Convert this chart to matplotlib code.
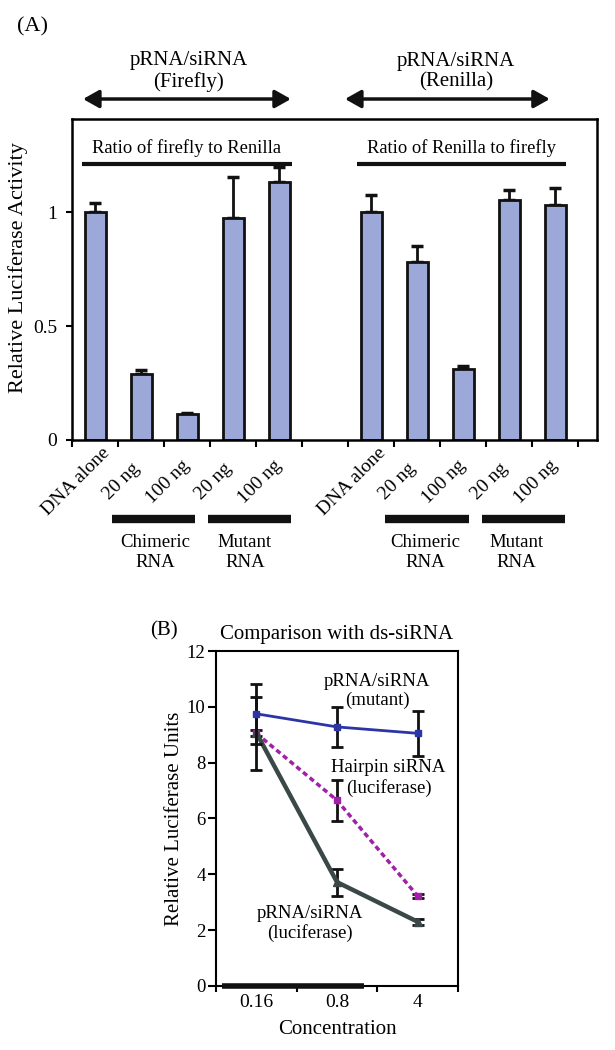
import numpy as np
import matplotlib
matplotlib.use("Agg")
import matplotlib.pyplot as plt
from matplotlib.patches import FancyArrowPatch

plt.rcParams['font.family'] = ['Liberation Serif', 'DejaVu Serif']

# panel A data
labels_a = ["DNA alone", "20 ng", "100 ng", "20 ng", "100 ng", "",
            "DNA alone", "20 ng", "100 ng", "20 ng", "100 ng"]
values_a = [1.0, 0.289, 0.114, 0.975, 1.131, np.nan,
            1.0, 0.78, 0.312, 1.054, 1.031]
errors_a = [0.04, 0.018, 0.004, 0.178, 0.066, np.nan,
            0.077, 0.071, 0.014, 0.045, 0.076]

# panel B data
conc = ["0.16", "0.8", "4"]
mutant = [9.75, 9.28, 9.05]
mutant_err = [1.07, 0.72, 0.8]
hairpin = [9.05, 6.65, 3.22]
hairpin_err = [1.3, 0.73, 0.08]
lucif = [9.07, 3.72, 2.3]
lucif_err = [0.1, 0.48, 0.1]

fig = plt.figure(figsize=(6.15, 10.5), dpi=100)

# ---------- (A)
ax = fig.add_axes([0.1176, 0.581, 0.8527, 0.3057])
x = np.arange(len(labels_a))
v = np.array(values_a)
e = np.array(errors_a)
ok = ~np.isnan(v)
ax.bar(x[ok], v[ok], width=0.45, color='#9ba8d8', edgecolor='#111111', linewidth=2, zorder=2)
ax.errorbar(x[ok], v[ok], yerr=[np.zeros(ok.sum()), e[ok]], fmt='none',
            ecolor='#111111', elinewidth=2, capsize=4, capthick=2.5, zorder=1)
ax.set_xlim(-0.5, 10.9)
ax.set_ylim(0, 1.41)
ax.set_yticks([0, 0.5, 1])
ax.set_yticklabels(["0", "0.5", "1"])
ax.set_xticks(np.arange(-0.5, 11, 1))
ax.set_xticklabels([])
ax.tick_params(axis='y', direction='out', length=4, width=1.5, pad=7, labelsize=14)
ax.tick_params(axis='x', direction='out', length=5, width=1.5)
for s in ax.spines.values():
    s.set_linewidth(1.8)
for i, lab in enumerate(labels_a):
    if lab:
        ax.text(i - 0.42, -0.184, lab, rotation=45, ha='center', va='center',
                fontsize=14, clip_on=False)
ax.set_ylabel("Relative Luciferase Activity", fontsize=16)
ax.yaxis.set_label_coords(-0.085, 0.536)

ax.plot([-0.29, 4.27], [1.21, 1.21], color='#111111', lw=3, solid_capstyle='butt')
ax.plot([5.69, 10.23], [1.21, 1.21], color='#111111', lw=3, solid_capstyle='butt')
ax.text(1.99, 1.245, "Ratio of firefly to Renilla", ha='center', va='bottom', fontsize=13.3)
ax.text(7.96, 1.245, "Ratio of Renilla to firefly", ha='center', va='bottom', fontsize=13.3)

# group bars below the tick labels
groups = [(0.36, 2.17, 1.3, "Chimeric\nRNA"), (2.45, 4.25, 3.25, "Mutant\nRNA"),
          (6.30, 8.12, 7.17, "Chimeric\nRNA"), (8.41, 10.21, 9.15, "Mutant\nRNA")]
for x0, x1, xc, name in groups:
    ax.plot([x0, x1], [-0.346, -0.346], color='#111111', lw=6,
            solid_capstyle='butt', clip_on=False)
    ax.text(xc, -0.496, name, ha='center', va='center', fontsize=13.5,
            linespacing=1.25, clip_on=False)

fig.text(0.028, 0.974, "(A)", fontsize=16, va='center')
fig.text(0.307, 0.932, "pRNA/siRNA\n(Firefly)", ha='center', va='center', fontsize=15, linespacing=1.1)
fig.text(0.741, 0.932, "pRNA/siRNA\n(Renilla)", ha='center', va='center', fontsize=15, linespacing=1.1)
for a, b in [(0.135, 0.473), (0.561, 0.894)]:
    fig.add_artist(FancyArrowPatch(
        (a, 0.9057), (b, 0.9057), transform=fig.transFigure,
        arrowstyle='<|-|>,head_length=0.8,head_width=0.45', color='#111111', lw=2.5,
        mutation_scale=12, shrinkA=0, shrinkB=0))

# ---------- (B)
bx = fig.add_axes([0.3512, 0.061, 0.3935, 0.319])
xb = np.arange(len(conc))
bx.errorbar(xb, mutant, yerr=mutant_err, color='#2b36a4', ecolor='#111111', lw=2,
            marker='s', ms=5, elinewidth=2, capsize=4, capthick=2, zorder=3)
bx.errorbar(xb, hairpin, yerr=hairpin_err, color='#a020a8', ecolor='#111111', lw=2.5,
            ls=(0, (1.5, 1)), marker='s', ms=5, elinewidth=2, capsize=4, capthick=2, zorder=2)
bx.errorbar(xb, lucif, yerr=lucif_err, color='#3a4847', ecolor='#111111', lw=3.2,
            marker='^', ms=6, elinewidth=2, capsize=4, capthick=2, zorder=2)
bx.plot([-0.43, 1.335], [0, 0], color='#111111', lw=4, solid_capstyle='butt', clip_on=False, zorder=4)
bx.set_xlim(-0.5, 2.5)
bx.set_ylim(0, 12)
bx.set_yticks(range(0, 13, 2))
bx.set_xticks([-0.5, 0.5, 1.5, 2.5])
bx.set_xticklabels([])
for i, c in enumerate(conc):
    bx.text(i, -0.6, c, ha='center', va='center', fontsize=14)
bx.text(1.0, -1.57, "Concentration", ha='center', va='center', fontsize=15)
bx.tick_params(axis='y', direction='out', length=6, width=1.5, pad=1.5, labelsize=13.5)
bx.tick_params(axis='x', direction='out', length=4.5, width=1.5)
for s in bx.spines.values():
    s.set_linewidth(1.5)
bx.set_ylabel("Relative Luciferase Units", fontsize=15, labelpad=2)
bx.set_title("Comparison with ds-siRNA", fontsize=15, pad=9)
bx.text(1.5, 10.57, "pRNA/siRNA\n(mutant)", ha='center', va='center', fontsize=13.5, linespacing=1.15)
bx.text(1.64, 7.45, "Hairpin siRNA\n(luciferase)", ha='center', va='center', fontsize=13.5, linespacing=1.15)
bx.text(0.665, 2.25, "pRNA/siRNA\n(luciferase)", ha='center', va='center', fontsize=13.5, linespacing=1.15)
fig.text(0.244, 0.399, "(B)", fontsize=15, va='center')

fig.savefig("out.png", dpi=100)
